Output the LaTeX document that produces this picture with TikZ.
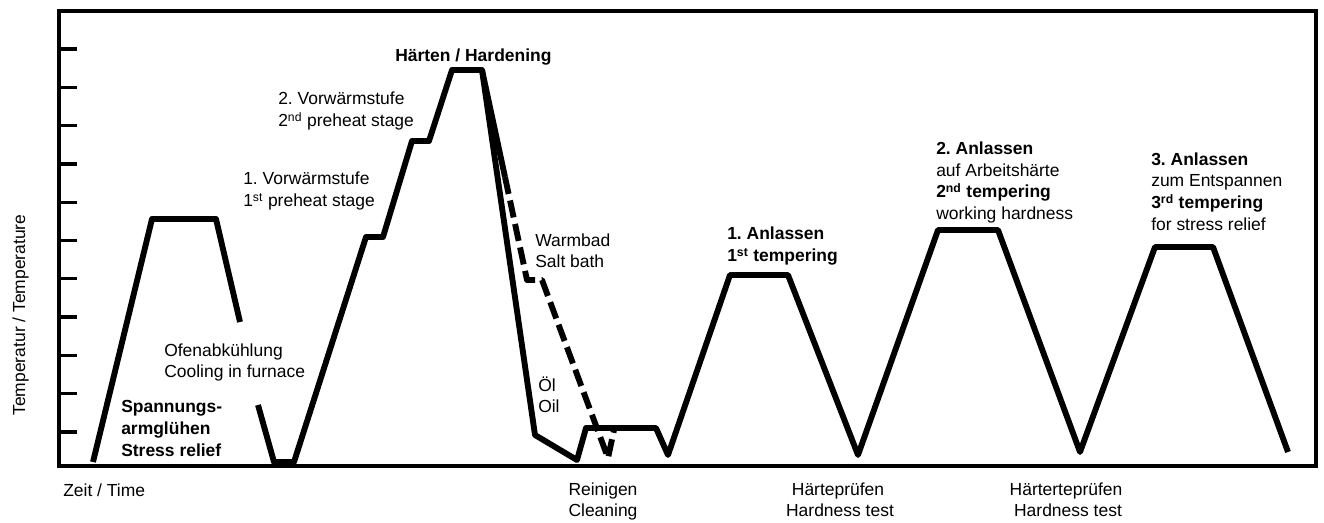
\documentclass[tikz,border=0pt]{standalone}
\usepackage{fontspec}
\setmainfont{Liberation Sans}
\frenchspacing
\begin{document}
\begin{tikzpicture}[x=0.75pt,y=-0.75pt,
  frame/.style={line width=2.5pt},
  curve/.style={line width=4.4pt, line join=round, line cap=butt},
  quench/.style={curve, dash pattern=on 13pt off 5pt},
  lbl/.style={anchor=base west, inner sep=0pt, font=\fontsize{13.1}{16}\selectfont},
  clbl/.style={lbl, anchor=base},
  blbl/.style={lbl, font=\fontsize{13.1}{16}\selectfont\bfseries}]
\useasboundingbox (0,0) rectangle (1324,523);
% frame
\draw[frame] (59,466) -- (59,11) -- (1316,11) -- (1316,466) -- cycle;
\foreach \i in {0,...,10} \draw[frame] (59,49+38.3*\i) -- (77,49+38.3*\i);
% stress relief
\draw[curve] (93,462) -- (152,219) -- (216,219) -- (240,322);
% main process
\draw[curve] (258,405) -- (274,462) -- (294,462) -- (366,237) -- (383,237)
  -- (412,141) -- (429,141) -- (452,70) -- (482,70) -- (535,435) -- (577,460)
  -- (586,428) -- (656,428) -- (668,455) -- (730,275) -- (788,275) -- (858,455)
  -- (938,230) -- (998,230) -- (1080,452) -- (1155,247) -- (1213,247) -- (1288,452);
% salt bath quench
\draw[curve] (482,70) -- (505,177);
\draw[quench] (505,177) -- (527,280) -- (542,280) -- (608,458) -- (614,430);
% labels
\node[lbl, rotate=90, anchor=base] (yl) at (25,315) {Temperatur / Temperature};
\node[lbl] (xl) at (63,497) {Zeit / Time};
\node[blbl] (sr1) at (121,413) {Spannungs-};
\node[blbl] (sr2) at (121,435) {armglühen};
\node[blbl] (sr3) at (121,457) {Stress relief};
\node[lbl] (of1) at (164,357) {Ofenabkühlung};
\node[lbl] (of2) at (164,378) {Cooling in furnace};
\node[lbl] (v11) at (243,185) {1. Vorwärmstufe};
\node[lbl] (v12) at (243,207) {1\textsuperscript{st} preheat stage};
\node[lbl] (v21) at (278,105) {2. Vorwärmstufe};
\node[lbl] (v22) at (278,127) {2\textsuperscript{nd} preheat stage};
\node[blbl] (ha) at (395,62) {Härten / Hardening};
\node[lbl] (wb1) at (535,247) {Warmbad};
\node[lbl] (wb2) at (535,268) {Salt bath};
\node[lbl] (oe1) at (538,392) {Öl};
\node[lbl] (oe2) at (538,413) {Oil};
\node[clbl] (re1) at (603,495) {Reinigen};
\node[clbl] (re2) at (603,517) {Cleaning};
\node[blbl] (a11) at (727,240) {1. Anlassen};
\node[blbl] (a12) at (727,262) {1\textsuperscript{st} tempering};
\node[clbl] (hp1) at (838,495) {Härteprüfen};
\node[clbl] (hp2) at (840,517) {Hardness test};
\node[blbl] (a21) at (936,155) {2. Anlassen};
\node[lbl] (a22) at (936,177) {auf Arbeitshärte};
\node[blbl] (a23) at (936,198) {2\textsuperscript{nd} tempering};
\node[lbl] (a24) at (936,220) {working hardness};
\node[blbl] (a31) at (1151,166) {3. Anlassen};
\node[lbl] (a32) at (1151,187) {zum Entspannen};
\node[blbl] (a33) at (1151,209) {3\textsuperscript{rd} tempering};
\node[lbl] (a34) at (1151,231) {for stress relief};
\node[clbl] (ht1) at (1066,495) {Härterteprüfen};
\node[clbl] (ht2) at (1068,517) {Hardness test};
\end{tikzpicture}
\end{document}
